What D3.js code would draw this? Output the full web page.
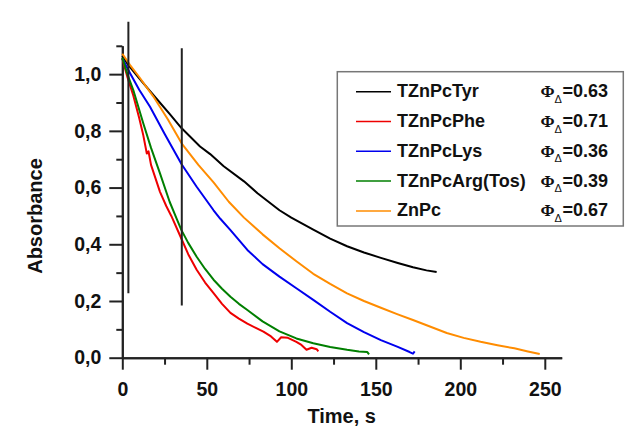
<!DOCTYPE html>
<html>
<head>
<meta charset="utf-8">
<script src="https://cdn.jsdelivr.net/npm/d3@7"></script>
<style>
  html, body { margin: 0; padding: 0; background: #fff; }
  svg { display: block; font-family: "Liberation Sans", Arial, sans-serif; }
  .axis path, .axis line { stroke: #222; stroke-width: 2; }
  .axis text { font-size: 19.5px; font-weight: bold; fill: #111; }
  .axis-label { font-size: 20px; font-weight: bold; fill: #111; }
  .legend text { font-size: 18px; font-weight: bold; fill: #111; }
  .series { fill: none; stroke-width: 2; stroke-linejoin: round; }
</style>
</head>
<body>
<div id="chart"></div>
<script>
// decay curves, [time s, absorbance]
const tyr = [[0,1.065],[3.6,1.032],[10,0.985],[20,0.915],[28,0.86],[35,0.81],[46,0.745],[52,0.718],[60,0.675],[72,0.622],[80,0.58],[93,0.52],[100,0.494],[113,0.452],[123,0.42],[133,0.393],[143,0.371],[153,0.352],[163,0.334],[172,0.319],[180,0.308],[186,0.302]];
const phe = [[0,1.055],[3,0.99],[6.5,0.925],[10,0.845],[12.4,0.785],[14.5,0.72],[15.5,0.728],[17,0.68],[22.3,0.585],[26,0.535],[29,0.5],[34.2,0.43],[39,0.365],[44,0.31],[49,0.265],[54,0.228],[59,0.19],[64,0.158],[69,0.138],[74,0.12],[79,0.105],[83.5,0.092],[88,0.075],[91.5,0.056],[94,0.072],[98,0.07],[103,0.056],[106,0.045],[109,0.028],[112,0.035],[115,0.03],[116,0.022]];
const lys = [[0,1.055],[4.6,1.003],[10,0.945],[16.4,0.885],[25,0.79],[35,0.683],[44,0.603],[54,0.52],[58,0.49],[64,0.45],[74,0.38],[83,0.33],[93,0.286],[103,0.245],[113,0.204],[123,0.162],[133,0.122],[143,0.09],[153,0.062],[163,0.038],[170,0.02],[172,0.014],[173,0.022]];
const arg = [[0,1.058],[3,1.0],[6.5,0.944],[12.4,0.827],[17,0.74],[22.3,0.65],[28,0.55],[32.2,0.49],[35,0.45],[39,0.405],[44,0.356],[49,0.313],[54,0.275],[59,0.243],[64,0.215],[69,0.19],[74,0.168],[83,0.128],[93,0.093],[103,0.068],[113,0.051],[123,0.038],[133,0.028],[140,0.022],[145,0.02],[146,0.012]];
const znpc = [[0,1.072],[4.6,1.032],[10,0.99],[18.4,0.921],[27,0.84],[35.2,0.755],[45,0.68],[54,0.618],[63,0.55],[72,0.494],[83,0.435],[93,0.386],[103,0.34],[113,0.296],[123,0.26],[133,0.227],[143,0.2],[153,0.176],[163,0.153],[172,0.133],[182,0.11],[192,0.087],[202,0.07],[212,0.056],[222,0.044],[232,0.033],[240,0.022],[247,0.013]];

const seriesNames = ['TZnPcTyr', 'TZnPcPhe', 'TZnPcLys', 'TZnPcArg(Tos)', 'ZnPc'];
const seriesData = [tyr, phe, lys, arg, znpc];
const seriesColors = ['#000000', '#ee0000', '#0000ee', '#007f00', '#ff8c00'];
const phiValues = ['0.63', '0.71', '0.36', '0.39', '0.67'];

// the two black marker lines: [time, absorbance from, absorbance to]
const markers = [[3.6, 1.185, 0.227], [35.2, 1.091, 0.184]];

const xMajor = [0, 50, 100, 150, 200, 250];
const xMinor = [25, 75, 125, 175, 225];
const yMajor = [0, 0.2, 0.4, 0.6, 0.8, 1.0];
const yMinor = [0.1, 0.3, 0.5, 0.7, 0.9, 1.1];

const W = 641, H = 428;
const plot = { left: 122.3, right: 561.7, top: 45.8, bottom: 357.7 };

const svg = d3.select('#chart').append('svg')
  .attr('width', W)
  .attr('height', H);

const x = d3.scaleLinear().domain([0, 260]).range([plot.left, plot.right]);
const y = d3.scaleLinear().domain([0, 1.1]).range([plot.bottom, plot.top]);

const comma = d3.formatLocale({ decimal: ',', thousands: '.', grouping: [3], currency: ['', ''] }).format('.1f');

// minor ticks first, majors (with labels and domain line) on top
svg.append('g')
  .attr('class', 'axis')
  .attr('transform', `translate(0,${plot.bottom})`)
  .call(d3.axisBottom(x).tickValues(xMinor).tickSize(7).tickSizeOuter(0).tickFormat(''));
svg.append('g')
  .attr('class', 'axis')
  .attr('transform', `translate(0,${plot.bottom})`)
  .call(d3.axisBottom(x).tickValues(xMajor).tickSize(12).tickSizeOuter(0).tickPadding(12).tickFormat(d3.format('d')));

svg.append('g')
  .attr('class', 'axis')
  .attr('transform', `translate(${plot.left},0)`)
  .call(d3.axisLeft(y).tickValues(yMinor).tickSize(6).tickSizeOuter(0).tickFormat(''));
svg.append('g')
  .attr('class', 'axis')
  .attr('transform', `translate(${plot.left},0)`)
  .call(d3.axisLeft(y).tickValues(yMajor).tickSize(13).tickSizeOuter(0).tickPadding(8).tickFormat(comma));

// axis titles
svg.append('text')
  .attr('class', 'axis-label')
  .attr('x', 341.7)
  .attr('y', 423)
  .attr('text-anchor', 'middle')
  .text('Time, s');
svg.append('text')
  .attr('class', 'axis-label')
  .attr('transform', 'translate(42,216) rotate(-90)')
  .attr('text-anchor', 'middle')
  .text('Absorbance');

// curves
const line = d3.line()
  .x(d => x(d[0]))
  .y(d => y(d[1]));

svg.append('g')
  .selectAll('path')
  .data(seriesData)
  .join('path')
  .attr('class', 'series')
  .attr('stroke', (d, i) => seriesColors[i])
  .attr('d', line);

// vertical marker lines
svg.append('g')
  .selectAll('line')
  .data(markers)
  .join('line')
  .attr('x1', d => x(d[0]))
  .attr('x2', d => x(d[0]))
  .attr('y1', d => y(d[1]))
  .attr('y2', d => y(d[2]))
  .attr('stroke', '#222')
  .attr('stroke-width', 2);

// legend
const legend = svg.append('g').attr('class', 'legend');
legend.append('rect')
  .attr('x', 337.3)
  .attr('y', 71.7)
  .attr('width', 286)
  .attr('height', 154.3)
  .attr('fill', '#fff')
  .attr('stroke', '#777')
  .attr('stroke-width', 1.5);

const rowY = i => 91.7 + i * 29.8;
const rows = legend.selectAll('g.row')
  .data(seriesNames)
  .join('g')
  .attr('class', 'row')
  .attr('transform', (d, i) => `translate(0,${rowY(i)})`);

rows.append('line')
  .attr('x1', 356).attr('x2', 391)
  .attr('y1', 0).attr('y2', 0)
  .attr('stroke', (d, i) => seriesColors[i])
  .attr('stroke-width', 1.5);
rows.append('text')
  .attr('x', 397)
  .attr('y', 5.5)
  .text(d => d);

// Φ with subscript Δ, then the value, as one text
const phi = rows.append('text')
  .attr('x', 540.5)
  .attr('y', 5.5);
phi.append('tspan')
  .style('font-family', '"Liberation Serif", "Times New Roman", serif')
  .style('font-size', '17px')
  .text('\u03A6');
phi.append('tspan')
  .attr('dy', 5.5)
  .style('font-weight', 'normal')
  .style('font-size', '11px')
  .text('\u0394');
phi.append('tspan')
  .attr('dy', -5.5)
  .attr('dx', 0.5)
  .text((d, i) => '=' + phiValues[i]);
</script>
</body>
</html>
